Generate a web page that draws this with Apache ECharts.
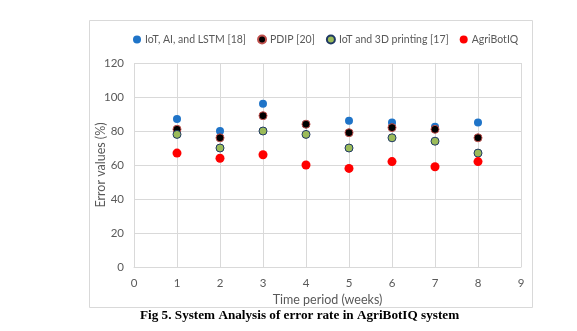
<!DOCTYPE html>
<html>
<head>
<meta charset="utf-8">
<script src="https://cdn.jsdelivr.net/npm/echarts@6/dist/echarts.min.js"></script>
<style>
  html, body { margin: 0; padding: 0; background: #fff; }
  #chart { width: 577px; height: 331px; }
</style>
</head>
<body>
<div id="chart"></div>
<script>
// Weeks on the x axis
const weeks = [1, 2, 3, 4, 5, 6, 7, 8];

// Error values (%) per method
const iotAiLstm = [87, 80, 96, 84, 86, 85, 82.5, 85];
const pdip = [81, 76, 89, 84, 79, 82, 81, 76];
const iot3dPrinting = [78, 70, 80, 78, 70, 76, 74, 67];
const agriBotIQ = [67, 64, 66, 60, 58, 62, 59, 62];

const seriesNames = ['IoT, AI, and LSTM [18]', 'PDIP [20]', 'IoT and 3D printing [17]', 'AgriBotIQ'];

const pairs = (vals) => weeks.map((w, i) => [w, vals[i]]);

const font = 'Lato';
const textColor = '#595959';

const chart = echarts.init(document.getElementById('chart'));
chart.setOption({
  animation: false,
  backgroundColor: '#fff',
  textStyle: { fontFamily: font },
  graphic: [
    {
      type: 'rect',
      shape: { x: 89.5, y: 20.5, width: 443, height: 287 },
      style: { fill: 'none', stroke: '#d9d9d9', lineWidth: 1 },
      z: -1
    },
    {
      type: 'text',
      left: 140,
      top: 309,
      style: {
        text: 'Fig 5. System Analysis of error rate in AgriBotIQ system',
        font: 'bold 13.2px "Liberation Serif"',
        fill: '#000'
      }
    }
  ],
  legend: {
    data: seriesNames,
    left: 128,
    top: 29,
    icon: 'circle',
    itemWidth: 8,
    itemHeight: 8,
    itemGap: 11,
    textStyle: { color: textColor, fontSize: 10.5, fontFamily: font, padding: [0, 0, 0, -1] }
  },
  grid: { left: 134, right: 56, top: 63, bottom: 64 },
  xAxis: {
    type: 'value',
    min: 0,
    max: 9,
    interval: 1,
    name: 'Time period (weeks)',
    nameLocation: 'middle',
    nameGap: 26,
    nameTextStyle: { color: textColor, fontSize: 12.5, fontFamily: font },
    axisLine: { lineStyle: { color: '#d9d9d9' } },
    axisTick: { show: false },
    axisLabel: { color: textColor, fontSize: 11.5, margin: 10 },
    splitLine: { show: true, lineStyle: { color: '#d9d9d9' } }
  },
  yAxis: {
    type: 'value',
    min: 0,
    max: 120,
    interval: 20,
    name: 'Error values (%)',
    nameLocation: 'middle',
    nameGap: 27,
    nameMoveOverlap: false,
    nameTextStyle: { color: textColor, fontSize: 12.5, fontFamily: font },
    axisLine: { show: false },
    axisTick: { show: false },
    axisLabel: { color: textColor, fontSize: 11.5, margin: 10 },
    splitLine: { show: true, lineStyle: { color: '#d9d9d9' } }
  },
  series: [
    {
      name: seriesNames[0],
      type: 'scatter',
      symbolSize: 8,
      data: pairs(iotAiLstm),
      itemStyle: { color: '#1f74c8', opacity: 1 }
    },
    {
      name: seriesNames[1],
      type: 'scatter',
      symbolSize: 8,
      data: pairs(pdip),
      itemStyle: { color: '#000000', borderColor: '#c0504d', borderWidth: 1, opacity: 1 }
    },
    {
      name: seriesNames[2],
      type: 'scatter',
      symbolSize: 8,
      data: pairs(iot3dPrinting),
      itemStyle: { color: '#9bbb59', borderColor: '#1f3864', borderWidth: 1, opacity: 1 }
    },
    {
      name: seriesNames[3],
      type: 'scatter',
      symbolSize: 9,
      data: pairs(agriBotIQ),
      itemStyle: { color: '#ff0000', opacity: 1 }
    }
  ]
});
</script>
</body>
</html>
